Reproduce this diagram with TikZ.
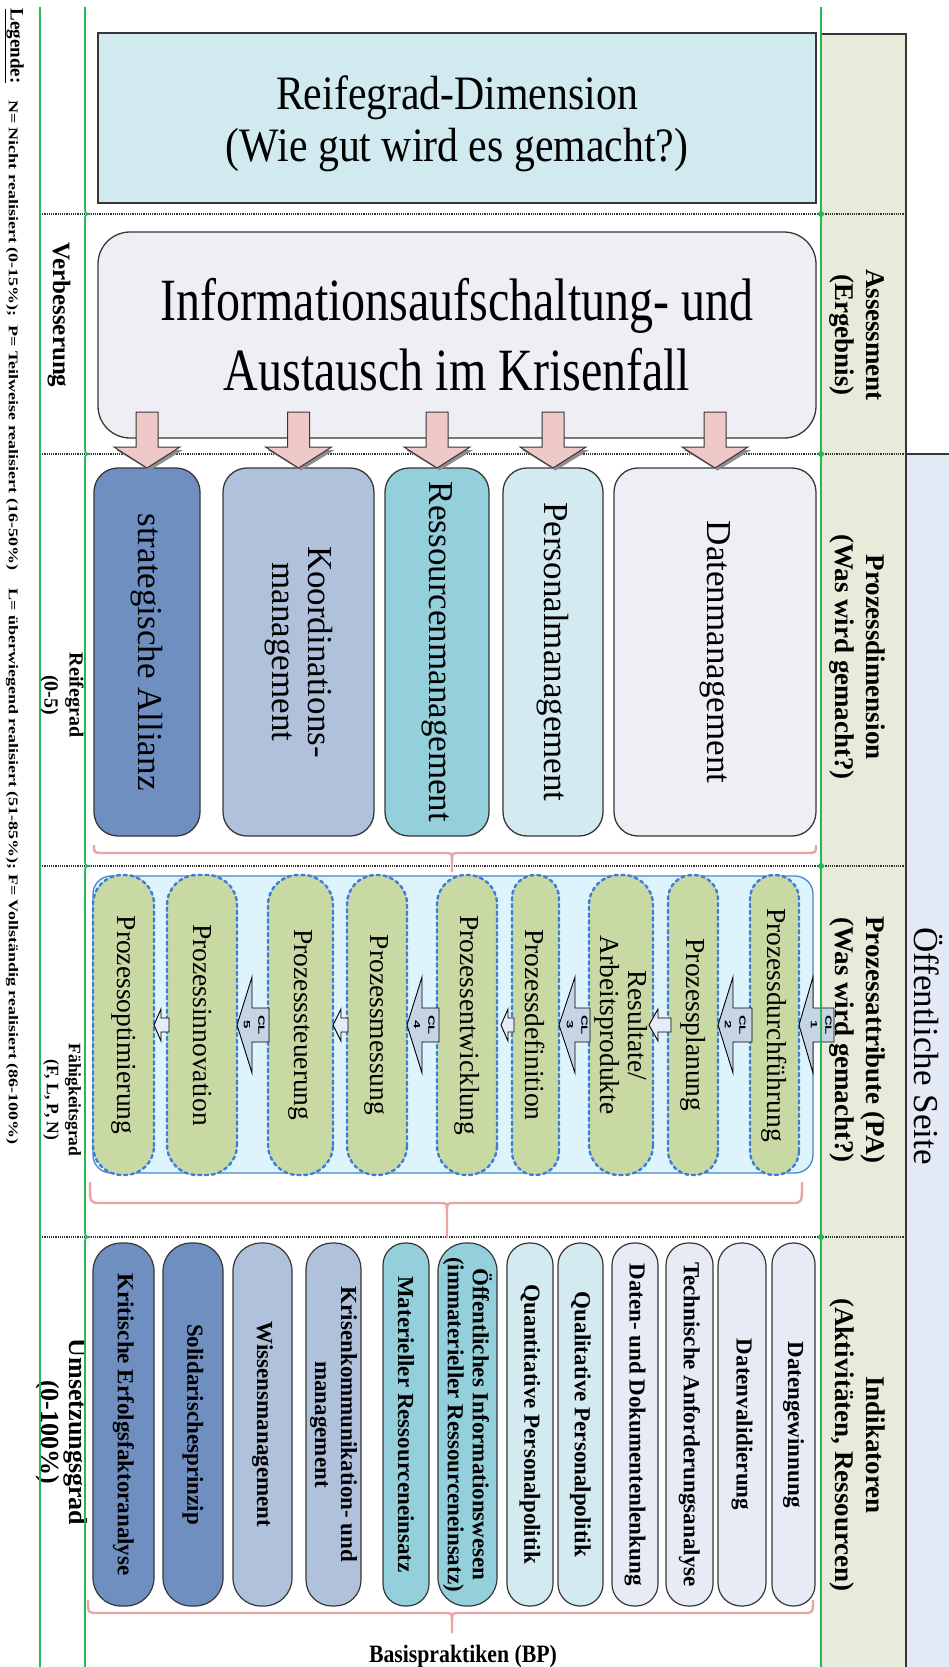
\documentclass[tikz,border=0pt]{standalone}
\usepackage{fontspec}
\usepackage{graphicx}
\setmainfont{Liberation Serif}
\newfontfamily\clfont{Liberation Sans}
\usetikzlibrary{calc}

\definecolor{lineGreen}{RGB}{38,184,84}
\definecolor{boxLine}{RGB}{55,55,55}
\definecolor{titleFill}{RGB}{209,234,240}
\definecolor{infoFill}{RGB}{239,238,244}
\definecolor{darkBlue}{RGB}{110,143,192}
\definecolor{midBlue}{RGB}{175,193,219}
\definecolor{tealFill}{RGB}{148,207,220}
\definecolor{paleCyan}{RGB}{210,234,240}
\definecolor{paleLav}{RGB}{238,239,245}
\definecolor{paleLavB}{RGB}{230,235,246}
\definecolor{contFill}{RGB}{221,244,253}
\definecolor{contLine}{RGB}{74,134,200}
\definecolor{pillFill}{RGB}{201,217,163}
\definecolor{pillLine}{RGB}{59,125,216}
\definecolor{clFill}{RGB}{198,212,232}
\definecolor{smallFill}{RGB}{230,236,247}
\definecolor{pinkFill}{RGB}{239,200,200}
\definecolor{braceCol}{RGB}{232,165,165}
\definecolor{oliveFill}{RGB}{233,235,218}
\definecolor{sideFill}{RGB}{228,234,245}

% horizontally condensed text
\newcommand{\sqz}[2]{\scalebox{#1}[1]{#2}}
% pink curly bracket: left x, right x, end y, bar y, tip y, centre x
\newcommand{\drawbrace}[6]{%
  \draw[pinkbrace] (#1,#3) .. controls (#1,#4) .. (#1+10,#4) -- (#6-8,#4)
     .. controls (#6,#4) .. (#6,#4+8) -- (#6,#5);
  \draw[pinkbrace] (#2,#3) .. controls (#2,#4) .. (#2-10,#4) -- (#6+8,#4)
     .. controls (#6,#4) .. (#6,#4+8);}

\begin{document}
\begin{tikzpicture}[x=1pt,y=-1pt,
  secbox/.style={draw=boxLine, line width=1.3pt, rounded corners=24pt, rotate=-90,
     inner sep=0pt, outer sep=0pt, align=center, font=\fontsize{35}{36}\selectfont,
     minimum width=368pt},
  pill/.style={draw=pillLine, fill=pillFill, line width=2.4pt, dash pattern=on 3.2pt off 3.6pt,
     line cap=round, rotate=-90, inner sep=0pt, outer sep=0pt, align=center,
     font=\fontsize{27.5}{28}\selectfont, minimum width=300pt},
  bp/.style={draw=boxLine, line width=1.2pt, rotate=-90, inner sep=0pt, outer sep=0pt,
     align=center, font=\bfseries\fontsize{23}{26}\selectfont, minimum width=363pt},
  clarrow/.style={draw=black, fill=clFill, line width=0.9pt},
  smallarrow/.style={draw=black, fill=smallFill, line width=0.9pt},
  pinkarrow/.style={draw=boxLine, fill=pinkFill, line width=1pt},
  pinkshadow/.style={fill=black!45},
  pinkbrace/.style={draw=braceCol, line width=2.4pt},
  dotsep/.style={line width=1.1pt, dash pattern=on 1.1pt off 1.1pt, black!80},
  greenline/.style={draw=lineGreen, line width=1.6pt},
  rlabel/.style={rotate=-90, align=center, inner sep=0pt, font=\bfseries\fontsize{25}{28}\selectfont},
  olabel/.style={rotate=-90, align=center, inner sep=0pt, font=\bfseries\fontsize{27}{31}\selectfont},
  cltext/.style={rotate=-90, inner sep=0pt, font=\clfont\bfseries\fontsize{15}{24}\selectfont}
]
\useasboundingbox (0,0) rectangle (948,1667);
\fill[white] (0,0) rectangle (948,1667);

% right-hand columns
\draw[boxLine, line width=1.2pt, fill=oliveFill] (821,1670) -- (821,34) -- (906,34) -- (906,1670);
\fill[sideFill] (906,454) rectangle (950,1670);
\draw[boxLine, line width=1.2pt] (906,454) -- (950,454);
\draw[boxLine, line width=1.2pt] (906,454) -- (906,1670);

% section separators
\foreach \yy in {214,454,866,1237} \draw[dotsep] (40,\yy) -- (906,\yy);

% top boxes
\node[draw=boxLine, fill=titleFill, line width=1.6pt, minimum width=718pt, minimum height=170pt,
      inner sep=0pt] (title) at (457,118) {};
\node[align=center, inner sep=0pt, font=\fontsize{48}{52}\selectfont] (titletext) at (457,124)
  {\sqz{0.87}{Reifegrad-Dimension}\\\sqz{0.87}{(Wie gut wird es gemacht?)}};
\node[draw=boxLine, fill=infoFill, line width=1.3pt, rounded corners=32pt, minimum width=718pt,
      minimum height=206pt, inner sep=0pt, align=center, font=\fontsize{60}{70}\selectfont] (info) at (457,335)
  {\sqz{0.80}{Informationsaufschaltung- und}\\\sqz{0.80}{Austausch im Krisenfall}};

% process dimension
\node[secbox, fill=darkBlue, minimum height=106pt] (sa) at (147,652) {strategische Allianz};
\node[secbox, fill=midBlue, minimum height=151pt] (km) at (298.5,652) {Koordinations-\\management};
\node[secbox, fill=tealFill, minimum height=104pt] (rm) at (437,652) {Ressourcenmanagement};
\node[secbox, fill=paleCyan, minimum height=100pt] (pm) at (553,652) {Personalmanagement};
\node[secbox, fill=paleLav, minimum height=202pt] (dm) at (715,652) {Datenmanagement};

% arrows from the information box
\foreach \tgt in {sa,km,rm,pm,dm}{
  \begin{scope}[shift={(\tgt.west)}]
    \fill[pinkshadow] (-31,-18) -- (2.5,2.5) -- (36,-18) -- cycle;
    \draw[pinkarrow] (-11,-56) -- (-11,-21) -- (-33,-21) -- (0,0) -- (33,-21) -- (11,-21) -- (11,-56) -- cycle;
  \end{scope}}

\drawbrace{94}{816}{845}{853}{872}{452}

% process attributes
\node[draw=contLine, fill=contFill, line width=1.3pt, rounded corners=18pt, minimum width=720pt,
      minimum height=297pt, inner sep=0pt] (cont) at (453,1024.5) {};
\node[pill, minimum height=61pt, rounded corners=29pt] (p1) at (123.5,1025) {Prozessoptimierung};
\node[pill, minimum height=70pt, rounded corners=30pt] (p2) at (202,1025) {Prozessinnovation};
\node[pill, minimum height=65pt, rounded corners=30pt] (p3) at (300.5,1025) {Prozesssteuerung};
\node[pill, minimum height=60pt, rounded corners=29pt] (p4) at (377,1025) {Prozessmessung};
\node[pill, minimum height=60pt, rounded corners=29pt] (p5) at (467,1025) {Prozessentwicklung};
\node[pill, minimum height=47pt, rounded corners=23pt] (p6) at (535.5,1025) {Prozessdefinition};
\node[pill, minimum height=64pt, rounded corners=30pt] (p7) at (621,1025) {Resultate/\\Arbeitsprodukte};
\node[pill, minimum height=50pt, rounded corners=24pt] (p8) at (693,1025) {Prozessplanung};
\node[pill, minimum height=49pt, rounded corners=24pt] (p9) at (774.5,1025) {Prozessdurchführung};

% capability level arrows
\draw[clarrow] (p9.north) -- ++(14,-48) -- ++(0,31) -- ++(21,0) -- ++(0,34) -- ++(-21,0) -- ++(0,31) -- cycle;
\draw[clarrow] (p8.north) -- ++(15,-48) -- ++(0,31) -- ++(19,0) -- ++(0,34) -- ++(-19,0) -- ++(0,31) -- cycle;
\draw[clarrow] (p6.north) -- ++(16,-48) -- ++(0,31) -- ++(15,0) -- ++(0,34) -- ++(-15,0) -- ++(0,31) -- cycle;
\draw[clarrow] (p4.north) -- ++(15,-48) -- ++(0,31) -- ++(17,0) -- ++(0,34) -- ++(-17,0) -- ++(0,31) -- cycle;
\draw[clarrow] (p2.north) -- ++(15,-48) -- ++(0,31) -- ++(17,0) -- ++(0,34) -- ++(-17,0) -- ++(0,31) -- cycle;
\node[cltext] (cl1) at (821,1025) {\scalebox{1}[0.6]{\begin{tabular}{@{}c@{}}CL\\1\end{tabular}}};
\node[cltext] (cl2) at (735,1025) {\scalebox{1}[0.6]{\begin{tabular}{@{}c@{}}CL\\2\end{tabular}}};
\node[cltext] (cl3) at (577,1025) {\scalebox{1}[0.6]{\begin{tabular}{@{}c@{}}CL\\3\end{tabular}}};
\node[cltext] (cl4) at (424,1025) {\scalebox{1}[0.6]{\begin{tabular}{@{}c@{}}CL\\4\end{tabular}}};
\node[cltext] (cl5) at (254,1025) {\scalebox{1}[0.6]{\begin{tabular}{@{}c@{}}CL\\5\end{tabular}}};

% small steps between attributes
\draw[smallarrow] (p1.north) -- ++(7,-16) -- ++(0,9) -- ++(8,0) -- ++(0,14) -- ++(-8,0) -- ++(0,9) -- cycle;
\draw[smallarrow] (p3.north) -- ++(8,-16) -- ++(0,9) -- ++(7,0) -- ++(0,14) -- ++(-7,0) -- ++(0,9) -- cycle;
\draw[smallarrow] ($(p5.north)+(4,0)$) -- ++(7,-16) -- ++(0,9) -- ++(6,0) -- ++(0,14) -- ++(-6,0) -- ++(0,9) -- cycle;
\draw[smallarrow] ($(p7.north)+(-4,0)$) -- ++(9,-16) -- ++(0,9) -- ++(13,0) -- ++(0,14) -- ++(-13,0) -- ++(0,9) -- cycle;

\drawbrace{90}{802}{1182}{1203}{1238}{447}

% base practices
\node[bp, fill=darkBlue, minimum height=61pt, rounded corners=28pt] (b1) at (123.5,1424.5) {Kritische Erfolgsfaktoranalyse};
\node[bp, fill=darkBlue, minimum height=60pt, rounded corners=28pt] (b2) at (193,1424.5) {Solidarischesprinzip};
\node[bp, fill=midBlue, minimum height=59pt, rounded corners=28pt] (b3) at (262.5,1424.5) {Wissensmanagement};
\node[bp, fill=midBlue, minimum height=55pt, rounded corners=26pt] (b4) at (333.5,1424.5) {Krisenkommunikation- und\\management};
\node[bp, fill=tealFill, minimum height=46pt, rounded corners=22pt] (b5) at (406,1424.5) {Materieller Ressourceneinsatz};
\node[bp, fill=tealFill, minimum height=59pt, rounded corners=28pt, font=\bfseries\fontsize{23}{25}\selectfont] (b6) at (467.5,1424.5) {Öffentliches Informationswesen\\(immaterieller Ressourceneinsatz)};
\node[bp, fill=paleCyan, minimum height=46pt, rounded corners=22pt] (b7) at (530,1424.5) {Quantitative Personalpolitik};
\node[bp, fill=paleCyan, minimum height=45pt, rounded corners=22pt] (b8) at (580.5,1424.5) {Qualitative Personalpolitik};
\node[bp, fill=paleLavB, minimum height=46pt, rounded corners=22pt] (b9) at (635,1424.5) {Daten- und Dokumentenlenkung};
\node[bp, fill=paleLavB, minimum height=47pt, rounded corners=22pt] (b10) at (689.5,1424.5) {Technische Anforderungsanalyse};
\node[bp, fill=paleLavB, minimum height=48pt, rounded corners=23pt] (b11) at (742,1424.5) {Datenvalidierung};
\node[bp, fill=paleLavB, minimum height=43pt, rounded corners=21pt] (b12) at (793.5,1424.5) {Datengewinnung};

\drawbrace{88}{813}{1600}{1613}{1633}{452}
\node[anchor=base, inner sep=0pt, font=\bfseries\fontsize{25}{28}\selectfont] (bpl) at (463,1662)
  {\sqz{0.87}{Basispraktiken (BP)}};

% row labels, left
\node[rlabel] (l1) at (59,315) {Verbesserung};
\node[rlabel, font=\bfseries\fontsize{20}{25}\selectfont] (l2) at (62,695) {Reifegrad\\(0-5)};
\node[rlabel, font=\bfseries\fontsize{17.5}{22}\selectfont] (l3) at (62,1100) {Fähigkeitsgrad\\(F, L, P, N)};
\node[rlabel, font=\bfseries\fontsize{26}{28}\selectfont] (l4) at (62,1432) {Umsetzungsgrad\\(0-100\%)};

% row labels, right
\node[olabel] (r1) at (857,335) {Assessment\\(Ergebnis)};
\node[olabel] (r2) at (857,657) {Prozessdimension\\(Was wird gemacht?)};
\node[olabel] (r3) at (857,1040) {Prozessattribute (PA)\\(Was wird gemacht?)};
\node[olabel] (r4) at (857,1445) {Indikatoren\\(Aktivitäten, Ressourcen)};
\node[rotate=-90, inner sep=0pt, font=\fontsize{35}{40}\selectfont] (side) at (928,1046) {Öffentliche Seite};

% legend
\node[rotate=-90, inner sep=0pt, font=\bfseries\fontsize{19}{22}\selectfont] (leg) at (14,46) {\underline{Legende:}};
\node[rotate=-90, anchor=west, inner sep=0pt, font=\bfseries\fontsize{18}{19}\selectfont] (legtext) at (12,100)
  {\scalebox{1}[0.74]{N= Nicht realisiert (0-15\%);\ \ P= Teilweise realisiert (16-50\%)\hspace{18pt}L= überwiegend realisiert (51-85\%); F= Vollständig realisiert (86-100\%)}};

% green frame lines
\draw[greenline] (40,7) -- (40,1667);
\draw[greenline] (85,7)
  \foreach \yy in {214,454,866,1237}{ -- (85,\yy-6) .. controls (85,\yy-1) .. (89,\yy) .. controls (85,\yy+1) .. (85,\yy+6) }
  -- (85,1667);
\draw[greenline] (821,7) -- (821,1667);
\foreach \yy in {214,454,866,1237} \fill[lineGreen] (821,\yy) circle (3pt);
\end{tikzpicture}
\end{document}
